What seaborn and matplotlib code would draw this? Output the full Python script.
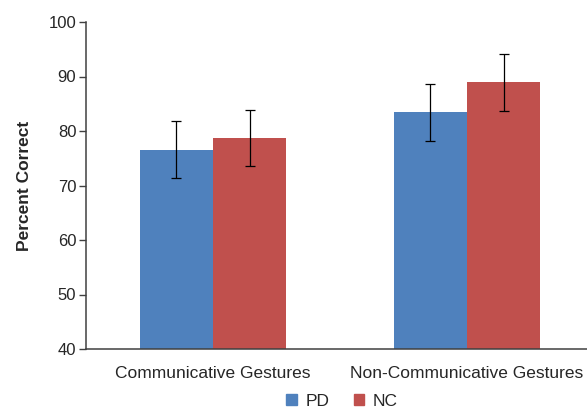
import matplotlib
matplotlib.use("Agg")
import matplotlib.pyplot as plt
import pandas as pd
import seaborn as sns

categories = ["Communicative Gestures", "Non-Communicative Gestures"]
groups = ["PD", "NC"]
pd_means = [76.6, 83.4]
nc_means = [78.7, 88.9]
pd_err = [5.3, 5.3]
nc_err = [5.2, 5.2]
colors = {"PD": "#4F81BD", "NC": "#C0504D"}

df = pd.DataFrame({
    "category": categories * 2,
    "group": ["PD"] * 2 + ["NC"] * 2,
    "value": pd_means + nc_means,
    "err": pd_err + nc_err,
})

sns.set_theme(style="white")
plt.rcParams["font.family"] = ["Liberation Sans", "DejaVu Sans"]

fig = plt.figure(figsize=(5.87, 4.09), dpi=100)
ax = fig.add_axes([86 / 587, 60 / 409, 508 / 587, 327 / 409])

sns.barplot(data=df, x="category", y="value", hue="group", order=categories,
            hue_order=groups, palette=colors, errorbar=None, width=0.575,
            saturation=1, linewidth=0, ax=ax, legend=False)

# error bars placed from the drawn bar patches
for grp, cont in zip(groups, ax.containers):
    sub = df[df["group"] == grp].set_index("category").loc[categories]
    xs = [b.get_x() + b.get_width() / 2 for b in cont]
    ax.errorbar(xs, sub["value"], yerr=sub["err"], fmt="none", ecolor="black",
                elinewidth=0.9, capsize=3.5, capthick=0.9)

ax.set_ylim(40, 100)
ax.set_yticks(range(40, 101, 10))
ax.set_xlim(-0.5, 1.5)
ax.set_xticks([0.5], minor=True)
ax.set_xticks([0, 1])
ax.set_xticklabels(categories, fontsize=12.5)
ax.tick_params(axis="x", which="major", length=0, pad=12)
ax.tick_params(axis="x", which="minor", length=5, width=1, color="#404040", direction="out")
ax.tick_params(axis="y", length=5, width=1, color="#404040", direction="out",
               labelsize=12, pad=2, left=True)
ax.set_xlabel("")
ax.set_ylabel("Percent Correct", fontsize=12.5, fontweight="bold", labelpad=12)
sns.despine(ax=ax)
for s in ["left", "bottom"]:
    ax.spines[s].set_color("#404040")
    ax.spines[s].set_linewidth(1.1)

handles = [plt.Rectangle((0, 0), 1, 1, color=colors[g]) for g in groups]
fig.legend(handles, groups, loc="lower center", bbox_to_anchor=(342 / 587, -0.037),
           ncol=2, frameon=False, fontsize=12.5, handlelength=0.6, handleheight=0.6,
           columnspacing=1.4, handletextpad=0.5)

fig.savefig("out.png", dpi=100)
